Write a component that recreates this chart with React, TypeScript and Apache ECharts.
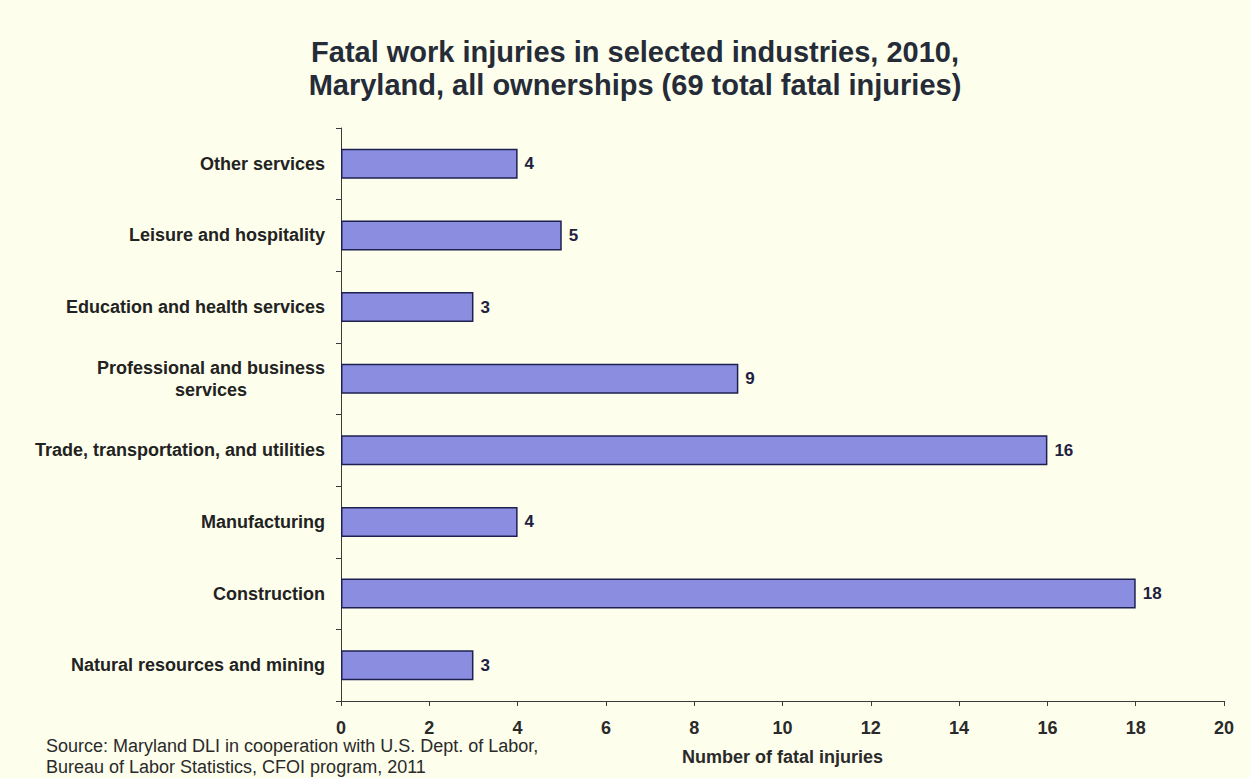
import React, { useEffect, useRef } from "react";
import * as echarts from "echarts";

const categories = [
  "Other services",
  "Leisure and hospitality",
  "Education and health services",
  "Professional and business\nservices",
  "Trade, transportation, and utilities",
  "Manufacturing",
  "Construction",
  "Natural resources and mining",
];
const values = [4, 5, 3, 9, 16, 4, 18, 3];
const xTicks = { min: 0, max: 20, interval: 2 };
const titleText =
  "Fatal work injuries in selected industries, 2010,\nMaryland, all ownerships (69 total fatal injuries)";
const sourceLines = [
  "Source: Maryland DLI in cooperation with U.S. Dept. of Labor,",
  "Bureau of Labor Statistics, CFOI program, 2011",
];
const xAxisName = "Number of fatal injuries";

const FONT = "'Liberation Sans', Arial, Helvetica, sans-serif";

export default function App() {
  const ref = useRef<HTMLDivElement>(null);
  useEffect(() => {
    if (!ref.current) return;
    const chart = echarts.init(ref.current, undefined, { renderer: "svg" });
    chart.setOption({
      animation: false,
      backgroundColor: "#FDFEEC",
      textStyle: { fontFamily: FONT },
      title: {
        text: titleText,
        left: 630,
        top: 30,
        textAlign: "center",
        textStyle: {
          fontFamily: FONT,
          fontSize: 29,
          fontWeight: "bold",
          color: "#252C38",
          lineHeight: 33,
        },
      },
      grid: { left: 341, right: 26, top: 128, bottom: 77 },
      xAxis: {
        type: "value",
        min: xTicks.min,
        max: xTicks.max,
        interval: xTicks.interval,
        splitLine: { show: false },
        axisLine: { show: true, lineStyle: { color: "#3a3a3a", width: 1 } },
        axisTick: { show: true, length: 5, lineStyle: { color: "#3a3a3a" } },
        axisLabel: {
          margin: 18,
          fontFamily: FONT,
          fontSize: 18,
          fontWeight: "bold",
          color: "#2a2a2a",
        },
        name: xAxisName,
        nameLocation: "middle",
        nameGap: 56,
        nameTextStyle: {
          fontFamily: FONT,
          fontSize: 18,
          fontWeight: "bold",
          color: "#2a2a2a",
          verticalAlign: "middle",
        },
      },
      yAxis: {
        type: "category",
        inverse: true,
        data: categories,
        axisLine: { show: true, lineStyle: { color: "#3a3a3a", width: 1 } },
        axisTick: { show: true, length: 5, lineStyle: { color: "#3a3a3a" } },
        axisLabel: {
          margin: 16,
          formatter: (v: string) =>
            v
              .split("\n")
              .map((l) => `{c|${l}}`)
              .join("\n"),
          rich: {
            c: {
              align: "center",
              fontFamily: FONT,
              fontSize: 18,
              fontWeight: "bold",
              color: "#222222",
              lineHeight: 22,
            },
          },
        },
      },
      series: [
        {
          type: "bar",
          data: values,
          barWidth: 30,
          itemStyle: {
            color: "#8B8EE0",
            borderColor: "#1E2150",
            borderWidth: 1.5,
          },
          label: {
            show: true,
            position: "right",
            distance: 7,
            fontFamily: FONT,
            fontSize: 17,
            fontWeight: "bold",
            color: "#1E2140",
          },
        },
      ],
      graphic: [
        {
          type: "text",
          left: 46,
          top: 735,
          style: {
            text: sourceLines.join("\n"),
            font: `18px ${FONT}`,
            fill: "#2a2a2a",
            lineHeight: 21,
          },
        },
      ],
    });
    return () => chart.dispose();
  }, []);
  return (
    <div
      ref={ref}
      style={{ position: "fixed", left: 0, top: 0, width: 1250, height: 778 }}
    />
  );
}
